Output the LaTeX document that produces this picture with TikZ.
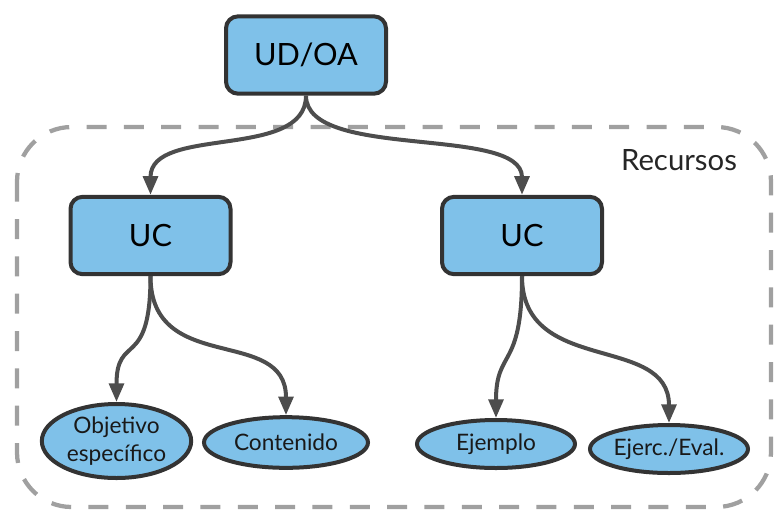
\documentclass[tikz,border=0pt]{standalone}
\usepackage{fontspec}
\setmainfont{Lato}
\usetikzlibrary{arrows.meta,shapes.geometric}

\definecolor{boxfill}{HTML}{7FC1E9}
\definecolor{boxline}{HTML}{333333}
\definecolor{edgecol}{HTML}{4D4D4D}
\definecolor{groupline}{HTML}{A0A0A0}

\tikzset{
  unitbox/.style={draw=boxline, fill=boxfill, line width=3pt, rounded corners=9pt,
    minimum width=120pt, minimum height=58pt, inner sep=0pt,
    font=\fontsize{23}{27}\selectfont, text=black},
  leaf/.style={ellipse, draw=boxline, fill=boxfill, line width=3pt, inner sep=0pt,
    font=\fontsize{17}{21}\selectfont, text=black!90, align=center},
  edge/.style={draw=edgecol, line width=3pt,
    -{Triangle[length=14pt,width=11pt]}},
  group/.style={draw=groupline, line width=3.2pt, dash pattern=on 15pt off 13pt,
    rounded corners=41pt},
}

\begin{document}
\begin{tikzpicture}[x=0.75pt, y=-0.75pt]
  \useasboundingbox (0,0) rectangle (776,512);

  % resource group frame
  \draw[group] (17,127) rectangle (771,507);
  \node[font=\fontsize{22}{26}\selectfont, text=black!85] (rec) at (679,160) {Recursos};

  % units
  \node[unitbox] (udoa) at (306,55) {UD/OA};
  \node[unitbox] (ucL) at (150.5,235.5) {UC};
  \node[unitbox] (ucR) at (522,235.5) {UC};

  % leaves
  \node[leaf, minimum width=112pt, minimum height=55.5pt] (obj) at (116.5,441) {Objetivo\\específico};
  \node[leaf, minimum width=123pt, minimum height=38pt] (cont) at (286,442.5) {Contenido};
  \node[leaf, minimum width=118.5pt, minimum height=36pt] (ejem) at (496,444) {Ejemplo};
  \node[leaf, minimum width=118.5pt, minimum height=36pt] (ejer) at (669,449) {Ejerc./Eval.};

  % connectors
  \draw[edge] (udoa.south) .. controls +(0,65) and +(0,-70) .. (ucL.north);
  \draw[edge] (udoa.south) .. controls +(0,65) and +(0,-70) .. (ucR.north);
  \draw[edge] (ucL.south) .. controls +(0,95) and +(0,-70) .. (obj.north);
  \draw[edge] (ucL.south) .. controls +(0,100) and +(0,-90) .. (cont.north);
  \draw[edge] (ucR.south) .. controls +(0,95) and +(0,-70) .. (ejem.north);
  \draw[edge] (ucR.south) .. controls +(0,100) and +(0,-90) .. (ejer.north);
\end{tikzpicture}
\end{document}
